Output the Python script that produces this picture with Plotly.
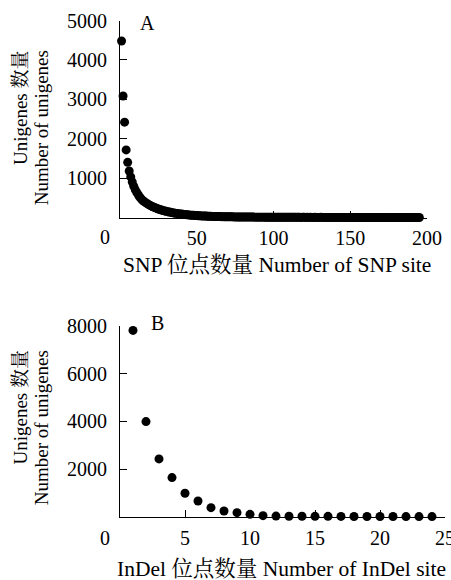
import plotly.graph_objects as go

# Panel A: number of unigenes vs number of SNP sites (x = 1, 2, 3, ...)
snp_counts = [
    4480, 3085, 2420, 1715, 1400, 1180, 1030, 900, 790, 700,
    630, 570, 510, 465, 425, 395, 370, 345, 320, 300,
    280, 262, 245, 230, 215, 202, 190, 178, 167, 157,
    148, 139, 131, 123, 116, 109, 103, 97, 91, 86,
    81, 76, 72, 68, 64, 60, 57, 54, 51, 48,
    45, 43, 41, 39, 37, 35, 33, 31, 30, 28,
    27, 26, 25, 24, 23, 22, 21, 20, 19, 18,
    17, 17, 16, 15, 15, 14, 14, 13, 13, 12,
    12, 11, 11, 11, 10, 10, 10, 9, 9, 9,
    8, 8, 8, 8, 7, 7, 7, 7, 6, 6,
    6, 7, 5, 6, 5, 5, 6, 4, 5, 5,
    4, 6, 4, 5, 4, 4, 5, 3, 4, 4,
    3, 5, 3, 4, 3, 3, 4, 3, 3, 2,
    4, 3, 2, 3, 3, 2, 3, 2, 2, 3,
    2, 2, 3, 2, 1, 2, 2, 3, 1, 2,
    2, 1, 2, 2, 1, 2, 1, 1, 2, 1,
    1, 2, 1, 1, 2, 1, 1, 1, 2, 1,
    1, 1, 1, 2, 1, 1, 1, 1, 1, 1,
    1, 1, 1, 1, 1, 1, 1, 1, 1, 1,
    1, 1, 1, 1, 1,
]
snp_sites = list(range(1, len(snp_counts) + 1))

# Panel B: number of unigenes vs number of InDel sites
indel_sites = [1, 2, 3, 4, 5, 6, 7, 8, 9, 10, 11, 12,
               13, 14, 15, 16, 17, 18, 19, 20, 21, 22, 23, 24]
indel_counts = [7815, 3990, 2425, 1640, 983, 660, 380, 240, 170, 100, 45, 25,
                20, 18, 15, 14, 12, 10, 9, 8, 7, 6, 5, 5]

yA_ticks = [1000, 2000, 3000, 4000, 5000]
xA_ticks = [50, 100, 150, 200]
yB_ticks = [2000, 4000, 6000, 8000]
xB_ticks = [5, 10, 15, 20, 25]

FONT = "Times New Roman, Liberation Serif, Noto Serif CJK SC, Noto Sans CJK SC, serif"
W, H = 451, 580

fig = go.Figure()
fig.add_trace(go.Scatter(x=snp_sites, y=snp_counts, mode="markers",
                         marker=dict(color="black", size=9),
                         cliponaxis=False, xaxis="x", yaxis="y", showlegend=False))
fig.add_trace(go.Scatter(x=indel_sites, y=indel_counts, mode="markers",
                         marker=dict(color="black", size=9),
                         cliponaxis=False, xaxis="x2", yaxis="y2", showlegend=False))

def py(px):
    return (H - px) / H

axis_common = dict(showgrid=False, zeroline=False, showline=True, linecolor="black",
                   linewidth=1, ticks="inside", ticklen=7, tickcolor="black",
                   automargin=False, ticklabeloverflow="allow",
                   tickfont=dict(family=FONT, size=20, color="black"))

fig.update_layout(
    width=W, height=H, margin=dict(l=0, r=0, t=0, b=0, autoexpand=False),
    paper_bgcolor="white", plot_bgcolor="white",
    xaxis=dict(domain=[120 / W, 427 / W], range=[0, 200], tickvals=xA_ticks,
               anchor="y", ticklabelstandoff=2, **axis_common),
    yaxis=dict(domain=[py(217.5), py(20.5)], range=[0, 5000], tickvals=yA_ticks,
               anchor="x", ticklabelstandoff=8, **axis_common),
    xaxis2=dict(domain=[120 / W, 445 / W], range=[0, 25], tickvals=xB_ticks,
                anchor="y2", ticklabelstandoff=3, **axis_common),
    yaxis2=dict(domain=[py(516.7), py(326)], range=[0, 8000], tickvals=yB_ticks,
                anchor="x2", ticklabelstandoff=8, **axis_common),
)

ann = [
    dict(text="A", x=147, y=23, size=20),
    dict(text="B", x=157, y=323, size=20),
    dict(text="0", x=105, y=237, size=20),
    dict(text="0", x=105, y=538, size=20),
    dict(text="SNP 位点数量 Number of SNP site", x=277, y=265, size=21.5),
    dict(text="InDel 位点数量 Number of InDel site", x=281, y=569, size=21.5),
    dict(text="Unigenes 数量", x=20, y=108, textangle=-90, size=19),
    dict(text="Number of unigenes", x=41.7, y=127.5, textangle=-90, size=19),
    dict(text="Unigenes 数量", x=20, y=407.5, textangle=-90, size=19),
    dict(text="Number of unigenes", x=41.7, y=427.5, textangle=-90, size=19),
]
for a in ann:
    fig.add_annotation(text=a["text"], x=a["x"] / W, y=py(a["y"]), xref="paper", yref="paper",
                       xanchor="center", yanchor="middle", showarrow=False,
                       textangle=a.get("textangle", 0),
                       font=dict(family=FONT, size=a["size"], color="black"))

fig.write_html(
    "out.html",
    config={"displayModeBar": False},
    post_script=(
        "document.documentElement.style.margin='0';"
        "document.documentElement.style.overflow='hidden';"
        "document.body.style.margin='0';document.body.style.padding='0';"
        "document.body.style.overflow='hidden';"
    ),
)
